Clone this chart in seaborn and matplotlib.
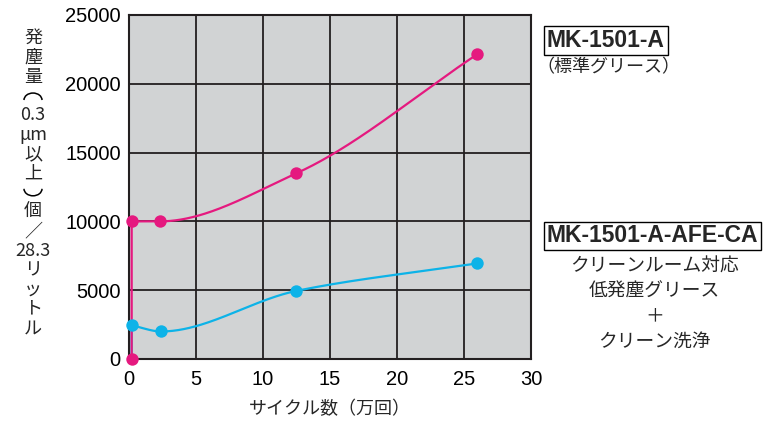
import numpy as np
import pandas as pd
import matplotlib
matplotlib.use("Agg")
import matplotlib.pyplot as plt
from matplotlib.patches import Arc
import seaborn as sns

# values
std_x = [0.2, 0.2, 2.3, 12.5, 26.0]
std_y = [0, 10000, 10000, 13500, 22150]
clean_x = [0.2, 0.2, 2.4, 12.5, 26.0]
clean_y = [0, 2450, 2000, 4950, 6950]

x_ticks = [0, 5, 10, 15, 20, 25, 30]
y_ticks = [0, 5000, 10000, 15000, 20000, 25000]

# "(" and ")" are drawn as sideways brackets of vertical writing
ylabel_parts = ["発", "塵", "量", "(", "0.3", "μm", "以", "上", ")", "個", "／",
                "28.3", "リ", "ッ", "ト", "ル"]

MAGENTA = "#e5197f"
CYAN = "#0db3e8"
GRID = "#231f20"


def smooth(xs, ys, n=200):
    # monotone cubic (pchip style) curve through the points, for drawing the line only
    xs = np.asarray(xs, float)
    ys = np.asarray(ys, float)
    h = np.diff(xs)
    d = np.diff(ys) / h
    m = np.zeros_like(ys)
    for k in range(1, len(xs) - 1):
        if d[k - 1] * d[k] > 0:
            w1 = 2 * h[k] + h[k - 1]
            w2 = h[k] + 2 * h[k - 1]
            m[k] = (w1 + w2) / (w1 / d[k - 1] + w2 / d[k])
    m[0] = d[0]
    m[-1] = d[-1]
    out_x, out_y = [], []
    for k in range(len(xs) - 1):
        t = np.linspace(0, 1, n)
        h00 = 2 * t**3 - 3 * t**2 + 1
        h10 = t**3 - 2 * t**2 + t
        h01 = -2 * t**3 + 3 * t**2
        h11 = t**3 - t**2
        out_x.append(xs[k] + t * h[k])
        out_y.append(h00 * ys[k] + h10 * h[k] * m[k] + h01 * ys[k + 1] + h11 * h[k] * m[k + 1])
    return np.concatenate(out_x), np.concatenate(out_y)


def curve(xs, ys):
    # vertical start segment, then a smooth line through the rest
    sx, sy = smooth(xs[1:], ys[1:])
    return pd.DataFrame({"x": np.r_[xs[0], sx], "y": np.r_[ys[0], sy]})


sns.set_style("white")
plt.rcParams["font.family"] = ["Liberation Sans", "Noto Sans CJK JP", "DejaVu Sans"]
JP = ["Noto Sans CJK JP", "DejaVu Sans"]

fig = plt.figure(figsize=(7.78, 4.21), dpi=100)
ax = fig.add_axes([0.1658, 0.1473, 0.5167, 0.8171])
ax.set_facecolor("#d1d3d4")

for xs, ys, col in [(clean_x, clean_y, CYAN), (std_x, std_y, MAGENTA)]:
    sns.lineplot(data=curve(xs, ys), x="x", y="y", sort=False, estimator=None,
                 color=col, lw=1.6, ax=ax, zorder=3)
    pts = pd.DataFrame({"x": xs, "y": ys})
    if col == CYAN:
        pts = pts.iloc[1:]
    sns.scatterplot(data=pts, x="x", y="y", color=col, s=80, linewidth=0,
                    ax=ax, zorder=4, clip_on=False)

ax.set_xlim(0, 30)
ax.set_ylim(0, 25000)
ax.set_xticks(x_ticks)
ax.set_yticks(y_ticks)
ax.tick_params(length=0, labelsize=14.5, colors="black")
ax.tick_params(axis="x", pad=8)
ax.tick_params(axis="y", pad=6)
ax.grid(True, color=GRID, lw=1.3)
ax.set_axisbelow(True)
for sp in ax.spines.values():
    sp.set_color(GRID)
    sp.set_linewidth(1.5)

ax.set_xlabel("サイクル数（万回）", fontsize=13, labelpad=8, family=JP)
ax.set_ylabel("")

# vertical (tategaki) y label, one item per row
W, H = 778, 421
for i, s in enumerate(ylabel_parts):
    ypx = 38 + i * 19.35
    if s == "(":
        fig.add_artist(Arc((33 / W, 1 - (ypx + 4) / H), 18 / W, 14 / H,
                           theta1=0, theta2=180, transform=fig.transFigure,
                           color="black", lw=1.1))
    elif s == ")":
        fig.add_artist(Arc((33 / W, 1 - (ypx - 4) / H), 18 / W, 14 / H,
                           theta1=180, theta2=360, transform=fig.transFigure,
                           color="black", lw=1.1))
    else:
        fig.text(33 / W, 1 - ypx / H, s, ha="center", va="center", fontsize=13,
                 family=JP)

box = dict(boxstyle="square,pad=0.12", fc="white", ec="black", lw=1)
fig.text(0.703, 0.904, "MK-1501-A", fontsize=16.5, ha="left", va="center",
         fontweight="bold", bbox=box)
fig.text(0.69, 0.84, "（標準グリース）", fontsize=13, ha="left", va="center", family=JP)
fig.text(0.703, 0.44, "MK-1501-A-AFE-CA", fontsize=16.5, ha="left", va="center",
         fontweight="bold", bbox=box)
notes = ["クリーンルーム対応", "低発塵グリース", "＋", "クリーン洗浄"]
for i, s in enumerate(notes):
    fig.text(0.841, 0.368 - i * 0.0595, s, fontsize=13.5, ha="center", va="center", family=JP)

fig.savefig("out.png", dpi=100)
